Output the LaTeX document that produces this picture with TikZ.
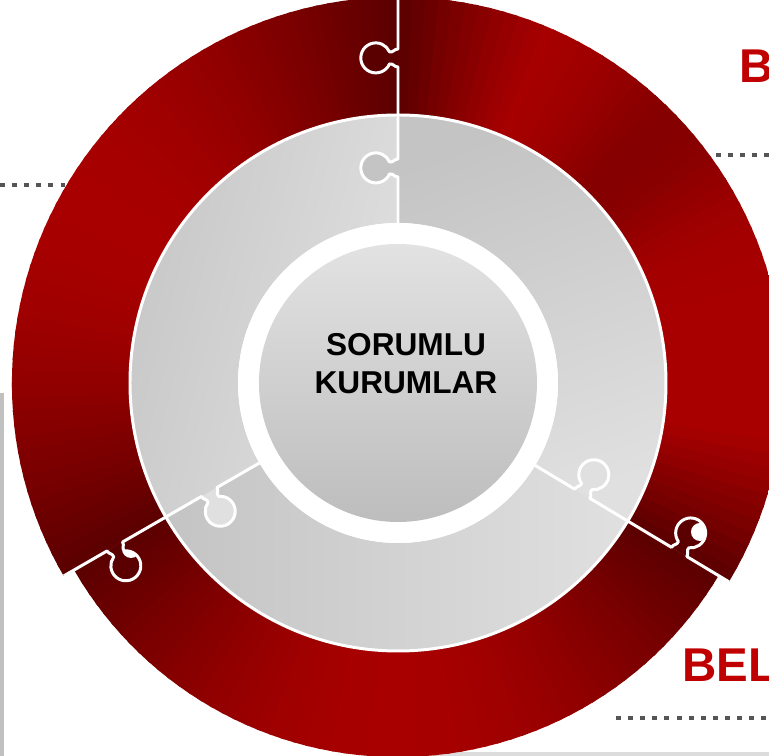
\documentclass[tikz,border=0pt]{standalone}
\usepackage{fontspec}
\setmainfont{Liberation Sans}
\usepackage{xcolor}
\usepackage{tikz}
\usetikzlibrary{calc}
\definecolor{ringdark}{HTML}{5A0000}
\definecolor{ringbright}{HTML}{A80000}
\definecolor{partdark}{HTML}{C4C4C4}
\definecolor{partlight}{HTML}{E0E0E0}
\definecolor{hubtop}{HTML}{E2E2E2}
\definecolor{hubbottom}{HTML}{BDBDBD}
\definecolor{dotgray}{HTML}{555555}
\definecolor{framegray}{HTML}{C0C0C0}
\definecolor{titlered}{HTML}{C00000}
\newcommand{\ringpart}[4]{(#1:#3) arc[start angle=#1,end angle=#2,radius=#3] -- (#2:#4) arc[start angle=#2,end angle=#1,radius=#4] -- cycle}
\tikzset{%
  seamline/.style={draw=white,line width=1.7pt,line join=round},
  dotrule/.style={draw=dotgray,line width=2.8pt,dash pattern=on 2.8pt off 4.1pt},
  framerule/.style={draw=framegray,line width=2.8pt},
  titletext/.style={text=titlered,font=\fontsize{27}{30}\selectfont\bfseries,inner sep=0pt,anchor=base west},
  hubtext/.style={font=\fontsize{18}{21.5}\selectfont\bfseries,align=center,inner sep=0pt},
  pics/puzzleseam/.style n args={4}{code={%
    \fill[#4] (#2-9,0) .. controls (#2-9,4) and (#2-5,5) .. (#2-6,8.5)
      arc[start angle=246,end angle=-66,radius=15]
      .. controls (#2+5,5) and (#2+9,4) .. (#2+9,0) -- cycle;
    \draw[seamline] (#1,0) -- (#2-9,0) .. controls (#2-9,4) and (#2-5,5) .. (#2-6,8.5)
      arc[start angle=246,end angle=-66,radius=15]
      .. controls (#2+5,5) and (#2+9,4) .. (#2+9,0) -- (#3,0);
  }}
}

\begin{document}
\begin{tikzpicture}[x=0.02cm,y=0.02cm]
    \useasboundingbox (-398,-373) rectangle (371,383);

    \coordinate (leftdotA) at (-398,198);
    \coordinate (leftdotB) at (-333,198);
    \coordinate (topdotA) at (318,228);
    \coordinate (topdotB) at (371,228);
    \coordinate (lowdotA) at (218,-335);
    \coordinate (lowdotB) at (371,-335);
    \coordinate (frameA) at (-396,-10);
    \coordinate (frameB) at (-396,-375);
    \coordinate (frameC) at (15,-371);
    \coordinate (frameD) at (375,-371);
    \draw[dotrule] (leftdotA) -- (leftdotB);
    \draw[dotrule] (topdotA) -- (topdotB);
    \draw[dotrule] (lowdotA) -- (lowdotB);
    \draw[framerule] (frameA) -- (frameB);
    \draw[framerule,draw=framegray!55,line width=2.3pt] (frameC) -- (frameD);

    % outer red ring
    \begin{scope}
      \clip \ringpart{90}{210}{266}{386};
      \foreach \i in {0,...,59}{
        \pgfmathsetmacro\a{90+2*\i}
        \pgfmathsetmacro\p{100*sin(3*\i+1.5)}
        \fill[ringbright!\p!ringdark] \ringpart{\a}{\a+2.6}{260}{390};
      }
    \end{scope}
    \begin{scope}
      \clip \ringpart{-31}{90}{266}{386};
      \foreach \i in {0,...,59}{
        \pgfmathsetmacro\a{-31+121*\i/60}
        \pgfmathsetmacro\p{100*min(1,1.8*sin(3*\i+1.5))*(1-0.45*exp(-((\a-42)/14)*((\a-42)/14)))}
        \fill[ringbright!\p!ringdark] \ringpart{\a}{\a+2.6}{260}{390};
      }
    \end{scope}
    \begin{scope}
      \clip \ringpart{210}{329}{266}{374};
      \foreach \i in {0,...,59}{
        \pgfmathsetmacro\a{210+119*\i/60}
        \pgfmathsetmacro\p{100*sin(3*\i+1.5)}
        \fill[ringbright!\p!ringdark] \ringpart{\a}{\a+2.6}{260}{380};
      }
    \end{scope}

    % inner gray ring
    \path[top color=partdark,bottom color=partlight,shading angle=75] \ringpart{90}{210}{160}{268};
    \path[top color=partdark,bottom color=partlight,shading angle=20] \ringpart{-31}{90}{160}{268};
    \path[top color=partdark,bottom color=partlight,shading angle=90] \ringpart{210}{329}{160}{268};

    \fill[white] (0,0) circle (160);
    \shade[top color=hubtop,bottom color=hubbottom] (0,0) circle (139);
    \draw[seamline] (0,0) circle (268);

    \pic[rotate=90] {puzzleseam={160}{215}{268}{partdark}};
    \pic[rotate=90] {puzzleseam={268}{325}{386}{ringdark}};
    \pic[rotate=-31] {puzzleseam={160}{215}{268}{partlight}};
    \pic[rotate=-31] {puzzleseam={268}{328}{386}{ringdark}};
    \pic[rotate=210] {puzzleseam={160}{218}{268}{partlight}};
    \pic[rotate=210] {puzzleseam={268}{327}{386}{ringdark}};
    \begin{scope}
      \clip (292.6,-150) circle (15);
      \fill[white] (302,-149) circle (9);
    \end{scope}
    \begin{scope}
      \clip (-272.2,-182.8) circle (15);
      \fill[white] (-267,-166) circle (9);
    \end{scope}

    \node[hubtext] (hub) at (8,19) {SORUMLU\\KURUMLAR};
    \node[titletext] (toplabel) at (341,300) {B};
    \node[titletext] (lowlabel) at (284,-299) {BEL};
  \end{tikzpicture}
\end{document}
